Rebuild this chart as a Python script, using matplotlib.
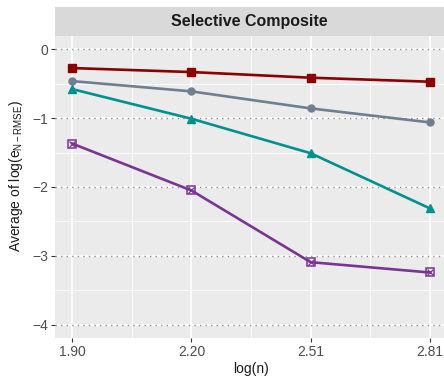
import numpy as np
import matplotlib
matplotlib.use("Agg")
import matplotlib.pyplot as plt

plt.rcParams["font.family"] = ["Liberation Sans", "DejaVu Sans"]
plt.rcParams["mathtext.fontset"] = "custom"
plt.rcParams["mathtext.rm"] = "Liberation Sans"
plt.rcParams["mathtext.it"] = "Liberation Sans:italic"

# data
log_n = [1.903, 2.204, 2.505, 2.806]
x_labels = ["1.90", "2.20", "2.51", "2.81"]
red_vals = [-0.275, -0.333, -0.415, -0.473]
grey_vals = [-0.464, -0.613, -0.860, -1.063]
teal_vals = [-0.58, -1.01, -1.51, -2.31]
purple_vals = [-1.37, -2.05, -3.09, -3.24]

y_ticks = [0, -1, -2, -3, -4]
y_labels = ["0", "\u22121", "\u22122", "\u22123", "\u22124"]

fig = plt.figure(figsize=(4.44, 3.76), dpi=100)
ax = fig.add_axes([55 / 444, 38 / 376, 392 / 444, 302 / 376])
ax.set_facecolor("#EBEBEB")

xmin, xmax = min(log_n), max(log_n)
pad = (xmax - xmin) * 0.048
ax.set_xlim(xmin - pad, xmax + pad)
ax.set_ylim(-4.19, 0.19)

# grid
mids = [(a + b) / 2 for a, b in zip(log_n[:-1], log_n[1:])]
for m in mids:
    ax.axvline(m, color="white", lw=0.6, zorder=0)
for v in log_n:
    ax.axvline(v, color="white", lw=1.2, zorder=0)
for h in [-0.5, -1.5, -2.5, -3.5]:
    ax.axhline(h, color="white", lw=0.6, zorder=0)
for h in y_ticks:
    ax.axhline(h, color="white", lw=1.2, zorder=0)
    ax.axhline(h, color="#8C8C8C", lw=1.0, ls=(0, (1, 3)), zorder=0.5)

lw = 1.9
ax.plot(log_n, red_vals, color="#8B0000", lw=lw, marker="s", ms=5.5, zorder=3)
ax.plot(log_n, grey_vals, color="#6F7F8F", lw=lw, marker="o", ms=5, zorder=3)
ax.plot(log_n, teal_vals, color="#009090", lw=lw, marker="^", ms=6, zorder=3)
ax.plot(log_n, purple_vals, color="#7A3594", lw=lw, marker="s", ms=5.5,
        mfc="none", mew=1.1, zorder=3)
ax.plot(log_n, purple_vals, color="#7A3594", lw=0, marker="x", ms=4,
        mew=0.9, zorder=4)

for s in ax.spines.values():
    s.set_visible(False)

ax.set_xticks(log_n)
ax.set_xticklabels(x_labels)
ax.set_yticks(y_ticks)
ax.set_yticklabels(y_labels)
ax.tick_params(axis="both", colors="#333333", labelcolor="#4D4D4D",
               labelsize=10, length=3, width=0.8, pad=2)

ax.set_xlabel("log(n)", fontsize=10, color="#1A1A1A", labelpad=2)
ax.set_ylabel(r"Average of log(e$_{\mathrm{N-RMSE}}$)", fontsize=10,
              color="#1A1A1A")
ax.yaxis.set_label_coords(-0.077, 0.535)

# facet strip
strip = fig.add_axes([55 / 444, 340 / 376, 392 / 444, 29 / 376])
strip.set_facecolor("#D9D9D9")
strip.set_xticks([])
strip.set_yticks([])
for s in strip.spines.values():
    s.set_visible(False)
strip.text((444 - 55) / 2 / 392, 0.5, "Selective Composite",
           transform=strip.transAxes, ha="center", va="center",
           fontsize=11.5, fontweight="bold", color="#1A1A1A")

fig.savefig("out.png", dpi=100)
